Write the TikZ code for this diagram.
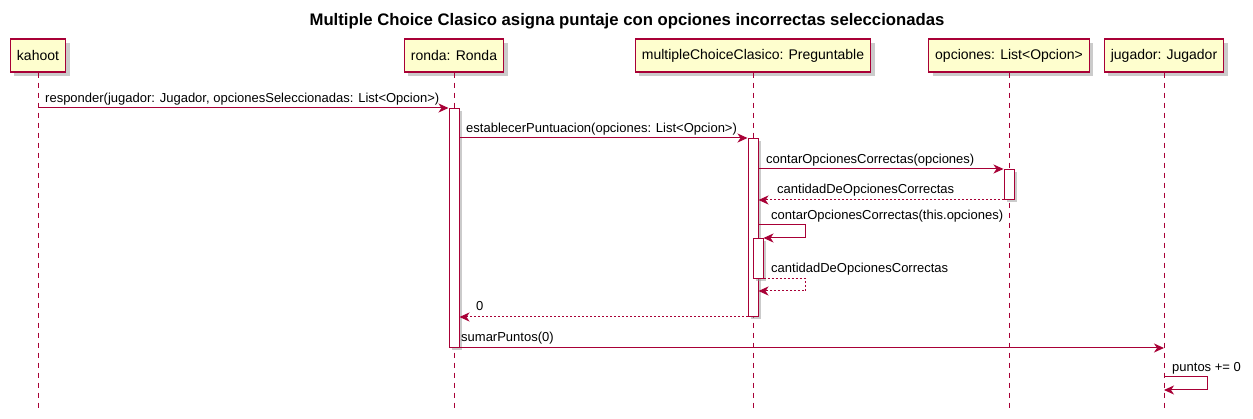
\documentclass[tikz,border=0pt]{standalone}
\usepackage{fontspec}
\setmainfont{Liberation Sans}
\usetikzlibrary{arrows.meta,shadows,calc}
\definecolor{puml}{HTML}{A80036}
\definecolor{pfill}{HTML}{FEFECE}
\begin{document}
\begin{tikzpicture}[x=1pt,y=-1pt,
  part/.style={draw=puml, line width=1.3pt, fill=pfill, font=\fontsize{14}{16}\selectfont,
    minimum height=33pt, inner xsep=6.5pt, inner ysep=0pt,
    drop shadow={shadow xshift=4pt, shadow yshift=-4pt, fill=black!40, opacity=0.5}},
  act/.style={draw=puml, line width=1pt, fill=white, minimum width=10pt, inner sep=0pt,
    drop shadow={shadow xshift=3pt, shadow yshift=-3pt, fill=black!40, opacity=0.5}},
  msg/.style={draw=puml, line width=1pt, -{Stealth[length=10pt,width=9pt,inset=3pt]}},
  ret/.style={msg, dash pattern=on 2pt off 2pt},
  life/.style={draw=puml, line width=1pt, dash pattern=on 5pt off 5pt},
  lbl/.style={font=\fontsize{13}{15}\selectfont, anchor=base west, inner sep=0pt}]
\useasboundingbox[fill=white] (0,0) rectangle (1253,419);

\node[font=\bfseries\fontsize{16.7}{19}\selectfont] (title) at (627,21)
  {Multiple Choice Clasico asigna puntaje con opciones incorrectas seleccionadas};

\node[part] (kah) at (38,55.5) {kahoot};
\node[part] (ron) at (454,55.5) {ronda: Ronda};
\node[part] (mcc) at (753,55.5) {multipleChoiceClasico: Preguntable};
\node[part] (opc) at (1009,55.5) {opciones: List<Opcion>};
\node[part] (jug) at (1164,55.5) {jugador: Jugador};

\coordinate (bot) at (0,410);
\foreach \p in {kah,ron,mcc,opc,jug}
  \draw[life] (\p.south) -- (\p.south |- bot);

\node[act, minimum height=239pt, anchor=north] (aR) at (454,108) {};
\node[act, minimum height=178pt, anchor=north] (aM) at (753,138) {};
\node[act, minimum height=30pt, anchor=north] (aO) at (1009,169) {};
\node[act, minimum height=40pt, anchor=north] (aN) at (758,238) {};

\coordinate (s1) at (0,225);
\coordinate (r2) at (0,291);
\coordinate (p1) at (0,377);
\coordinate (p2) at (0,390);

\draw[msg] (kah.south |- aR.north) -- (aR.north west);
\node[lbl] (l1) at (45,103) {responder(jugador: Jugador, opcionesSeleccionadas: List<Opcion>)};

\draw[msg] (aR.east |- aM.north) -- (aM.north west);
\node[lbl] (l2) at (466,133) {establecerPuntuacion(opciones: List<Opcion>)};

\draw[msg] (aM.east |- aO.north) -- (aO.north west);
\node[lbl] (l3) at (766,164) {contarOpcionesCorrectas(opciones)};

\draw[ret] (aO.south west) -- (aM.east |- aO.south);
\node[lbl] (l4) at (777,194) {cantidadDeOpcionesCorrectas};

\draw[msg] (aM.east |- s1) -- ++(47,0) |- (aN.north east);
\node[lbl] (l5) at (771,220) {contarOpcionesCorrectas(this.opciones)};

\draw[ret] (aN.south east) -- ++(42,0) |- (aM.east |- r2);
\node[lbl] (l6) at (771,273) {cantidadDeOpcionesCorrectas};

\draw[ret] (aM.south west) -- (aR.east |- aM.south);
\node[lbl] (l7) at (476,311) {0};

\draw[msg] (aR.south east) -- (jug.south |- aR.south);
\node[lbl] (l8) at (461,342) {sumarPuntos(0)};

\draw[msg] (jug.south |- p1) -- ++(43,0) |- (jug.south |- p2);
\node[lbl] (l9) at (1172,372) {puntos += 0};
\end{tikzpicture}
\end{document}
